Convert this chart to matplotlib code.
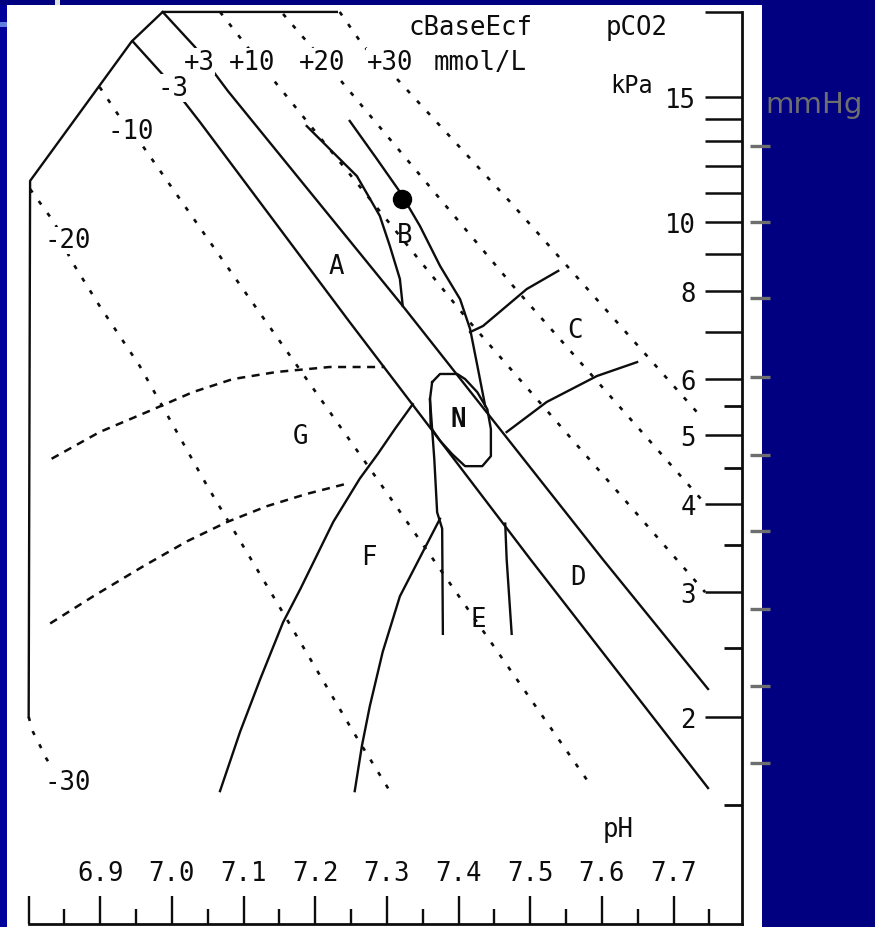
import matplotlib
matplotlib.use('Agg')
import matplotlib.pyplot as plt
from matplotlib.patches import Rectangle

plt.rcParams['font.family'] = ['DejaVu Sans Mono', 'DejaVu Sans']

# acid-base chart: x = pH, y = pCO2 (kPa, log scale)
boundary_ph = [7.230, 6.987, 6.944, 6.802, 6.800]
boundary_pco2 = [19.8, 19.8, 18.0, 11.43, 2.0]

# base excess lines (mmol/L)
be_m30_ph = [6.800, 6.806, 6.816, 6.825, 6.834]
be_m30_pco2 = [2.0, 1.905, 1.82, 1.744, 1.688]
be_m20_ph = [6.802, 6.837, 6.858, 6.899, 6.955, 7.049, 7.146, 7.253, 7.304]
be_m20_pco2 = [11.13, 9.94, 8.87, 7.61, 6.26, 4.24, 2.906, 1.905, 1.571]
be_m10_ph = [6.899, 6.927, 6.959, 7.099, 7.286, 7.583]
be_m10_pco2 = [15.51, 14.07, 12.81, 8.04, 4.34, 1.608]
be_m3_ph = [6.945, 6.990, 7.039, 7.248, 7.500, 7.748]
be_m3_pco2 = [18.0, 16.03, 13.84, 7.22, 3.34, 1.587]
be_p3_ph = [6.987, 7.032, 7.078, 7.322, 7.601, 7.748]
be_p3_pco2 = [19.8, 17.67, 15.31, 7.61, 3.34, 2.19]
be_p10_ph = [7.067, 7.102, 7.137, 7.412, 7.744]
be_p10_pco2 = [19.8, 17.84, 16.08, 7.29, 3.00]
be_p20_ph = [7.155, 7.179, 7.230, 7.476, 7.744]
be_p20_pco2 = [19.67, 18.43, 16.08, 8.12, 4.00]
be_p30_ph = [7.234, 7.267, 7.314, 7.472, 7.741]
be_p30_pco2 = [19.8, 17.73, 15.92, 10.67, 5.27]

# area borders
b_left_ph = [7.188, 7.220, 7.258, 7.290, 7.304, 7.318, 7.322]
b_left_pco2 = [13.66, 12.68, 11.61, 10.20, 9.25, 8.31, 7.61]
b_right_ph = [7.248, 7.286, 7.318, 7.346, 7.374, 7.402, 7.416, 7.427, 7.437]
b_right_pco2 = [13.89, 12.27, 11.03, 9.87, 8.67, 7.78, 7.06, 6.20, 5.50]
c_top_ph = [7.416, 7.434, 7.495, 7.539]
c_top_pco2 = [6.99, 7.13, 8.04, 8.53]
c_bot_ph = [7.467, 7.523, 7.593, 7.649]
c_bot_pco2 = [5.05, 5.57, 6.06, 6.34]
n_ph = [7.363, 7.374, 7.398, 7.409, 7.426, 7.440, 7.445, 7.445, 7.433,
        7.409, 7.391, 7.374, 7.361, 7.360, 7.363]
n_pco2 = [5.94, 6.10, 6.10, 6.00, 5.75, 5.44, 5.10, 4.67, 4.52,
          4.52, 4.70, 4.91, 5.13, 5.62, 5.94]
e_left_ph = [7.360, 7.366, 7.370, 7.377, 7.378]
e_left_pco2 = [5.62, 4.63, 3.89, 3.69, 2.62]
e_right_ph = [7.465, 7.467, 7.474]
e_right_pco2 = [3.75, 3.34, 2.62]
f_left_ph = [7.336, 7.311, 7.287, 7.262, 7.225, 7.179, 7.155, 7.123, 7.095, 7.067]
f_left_pco2 = [5.53, 5.10, 4.70, 4.34, 3.77, 3.03, 2.72, 2.26, 1.905, 1.571]
f_right_ph = [7.374, 7.350, 7.318, 7.294, 7.276, 7.265, 7.255]
f_right_pco2 = [3.81, 3.42, 2.96, 2.47, 2.07, 1.82, 1.571]
g_top_ph = [6.832, 6.899, 6.965, 7.029, 7.085, 7.146, 7.220, 7.297]
g_top_pco2 = [4.63, 5.05, 5.39, 5.75, 6.00, 6.14, 6.24, 6.24]
g_bot_ph = [6.830, 6.890, 6.959, 7.021, 7.077, 7.133, 7.188, 7.244]
g_bot_pco2 = [2.71, 2.96, 3.26, 3.54, 3.77, 3.97, 4.13, 4.27]

point_ph = 7.321
point_pco2 = 10.78

# scales
ph_major = [6.8, 6.9, 7.0, 7.1, 7.2, 7.3, 7.4, 7.5, 7.6, 7.7]
ph_minor = [6.85, 6.95, 7.05, 7.15, 7.25, 7.35, 7.45, 7.55, 7.65, 7.75]
ph_labels = ['6.9', '7.0', '7.1', '7.2', '7.3', '7.4', '7.5', '7.6', '7.7']
kpa_long = [19.8, 15, 14, 13, 12, 11, 10, 9, 8, 7, 6, 5, 4, 3, 2]
kpa_short = [5.5, 4.5, 3.5, 2.5, 1.5]
kpa_labels = [15, 10, 8, 6, 5, 4, 3, 2]
mmhg_marks = [12.8, 10.0, 7.8, 6.04, 4.69, 3.66, 2.84, 2.21, 1.72]

# region letters
region_names = ['A', 'B', 'C', 'D', 'E', 'F', 'G', 'N']
region_ph = [7.229, 7.324, 7.562, 7.567, 7.427, 7.275, 7.179, 7.399]
region_pco2 = [8.67, 9.59, 7.04, 3.15, 2.75, 3.36, 4.99, 5.27]

be_labels = ['+3', '+10', '+20', '+30', '-3', '-10', '-20', '-30']
be_label_ph = [7.038, 7.112, 7.209, 7.304, 7.001, 6.943, 6.855, 6.855]
be_label_pco2 = [16.83, 16.83, 16.83, 16.83, 15.46, 13.45, 9.43, 1.619]

PH_AXIS = 7.795
PCO2_BOTTOM = 1.02
PCO2_TOP = 19.8
INK = '#0d0d0d'
FS = 18.5

fig = plt.figure(figsize=(8.75, 9.28), dpi=100)
fig.patch.set_facecolor('#000080')
ax = fig.add_axes([0, 0, 1, 1])
ax.set_xlim(6.760, 7.981)
ax.set_yscale('log')
ax.set_ylim(1.0099, 20.65)
ax.axis('off')

# slide background pieces
ax.add_patch(Rectangle((7 / 875, 0), 755 / 875, 922 / 928, transform=ax.transAxes,
                       facecolor='white', edgecolor='none', zorder=0))
ax.add_patch(Rectangle((0, 0), 7 / 875, 922 / 928, transform=ax.transAxes,
                       facecolor='#00009a', edgecolor='none', zorder=0))
ax.add_patch(Rectangle((0, 1 - 28 / 928), 7 / 875, 5 / 928, transform=ax.transAxes,
                       facecolor='#5f7fe0', edgecolor='none', zorder=0))
ax.add_patch(Rectangle((55 / 875, 1 - 6 / 928), 5 / 875, 6 / 928, transform=ax.transAxes,
                       facecolor='#dde5dd', edgecolor='none', zorder=0))

dotted = (0, (1.6, 4.0))
ax.plot(boundary_ph, boundary_pco2, color=INK, lw=1.7)
for xs, ys in [(be_m30_ph, be_m30_pco2), (be_m20_ph, be_m20_pco2), (be_m10_ph, be_m10_pco2),
               (be_p10_ph, be_p10_pco2), (be_p20_ph, be_p20_pco2), (be_p30_ph, be_p30_pco2)]:
    ax.plot(xs, ys, color=INK, lw=1.9, ls=dotted)
ax.plot(be_m3_ph, be_m3_pco2, color=INK, lw=1.7)
ax.plot(be_p3_ph, be_p3_pco2, color=INK, lw=1.7)

for xs, ys in [(b_left_ph, b_left_pco2), (b_right_ph, b_right_pco2), (c_top_ph, c_top_pco2),
               (c_bot_ph, c_bot_pco2), (n_ph, n_pco2), (e_left_ph, e_left_pco2),
               (e_right_ph, e_right_pco2), (f_left_ph, f_left_pco2), (f_right_ph, f_right_pco2)]:
    ax.plot(xs, ys, color=INK, lw=1.7, solid_joinstyle='round')
ax.plot(g_top_ph, g_top_pco2, color=INK, lw=1.8, ls=(0, (3.2, 2.6)))
ax.plot(g_bot_ph, g_bot_pco2, color=INK, lw=1.8, ls=(0, (3.2, 2.6)))
ax.plot([point_ph], [point_pco2], 'o', color='black', ms=13)

# pH scale at the bottom
ax.plot([6.80, PH_AXIS], [PCO2_BOTTOM, PCO2_BOTTOM], color=INK, lw=2.0)
ax.vlines(ph_major, PCO2_BOTTOM, 1.117, color=INK, lw=1.7)
ax.vlines(ph_minor, PCO2_BOTTOM, 1.071, color=INK, lw=1.7)
for v, s in zip(ph_major[1:], ph_labels):
    ax.text(v, 1.204, s, ha='center', va='center', fontsize=FS, color=INK)
ax.text(7.622, 1.389, 'pH', ha='center', va='center', fontsize=FS, color=INK)

# pCO2 scale at the right
ax.plot([PH_AXIS, PH_AXIS], [PCO2_BOTTOM, PCO2_TOP], color=INK, lw=2.0)
ax.hlines(kpa_long, 7.744, PH_AXIS, color=INK, lw=1.8)
ax.hlines(kpa_short, 7.770, PH_AXIS, color=INK, lw=2.0)
for v in kpa_labels:
    ax.text(7.731, v * 0.99, str(v), ha='right', va='center', fontsize=FS, color=INK)
ax.text(7.642, 15.62, 'kPa', ha='center', va='center', fontsize=17, color=INK)
ax.text(7.417, 18.85, 'cBaseEcf', ha='center', va='center', fontsize=FS, color=INK)
ax.text(7.648, 18.85, 'pCO2', ha='center', va='center', fontsize=FS, color=INK)
ax.text(7.430, 16.83, 'mmol/L', ha='center', va='center', fontsize=FS, color=INK)

for s, x, y in zip(be_labels, be_label_ph, be_label_pco2):
    ax.text(x, y, s, ha='center', va='center', fontsize=FS, color=INK,
            bbox=dict(facecolor='white', edgecolor='none', pad=0.3))
for s, x, y in zip(region_names, region_ph, region_pco2):
    ax.text(x, y, s, ha='center', va='center', fontsize=FS, color=INK,
            fontweight='bold' if s == 'N' else 'normal')

# grey mmHg marks added on the slide
ax.hlines(mmhg_marks, 7.806, 7.834, color='#6e6e6e', lw=2.4)
ax.text(7.8276, 14.30, 'mmHg', ha='left', va='baseline', fontsize=21,
        color='#6e6e6e', family='DejaVu Sans')

fig.savefig('out.png', dpi=100, facecolor=fig.get_facecolor())
